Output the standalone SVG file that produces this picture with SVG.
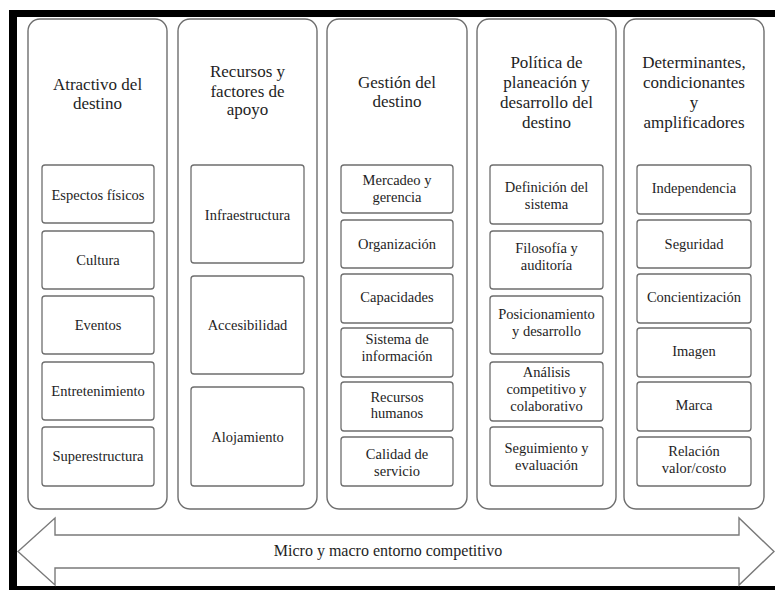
<svg xmlns="http://www.w3.org/2000/svg" width="775" height="590" viewBox="0 0 775 590" font-family="'Liberation Serif', 'Times New Roman', 'DejaVu Serif', serif">
<style>
.col{fill:#fff;stroke:#6e6e6e;stroke-width:1.4}
.box{fill:#fff;stroke:#6e6e6e;stroke-width:1.3}
text{font-family:'Liberation Serif','Times New Roman','DejaVu Serif',serif;fill:#1e1e1e;text-anchor:middle}
.h{font-size:17px}
.b{font-size:14.5px}
</style>
<rect x="0" y="0" width="775" height="590" fill="#fff"/>
<g id="frame" fill="#000">
<rect x="9" y="10" width="766" height="7"/>
<rect x="9" y="10" width="8" height="580"/>
<rect x="9" y="586" width="766" height="4"/>
</g>

<g id="col1">
<rect class="col" x="28" y="19" width="139" height="490" rx="12"/>
<text class="h"><tspan x="97.5" y="90">Atractivo del</tspan><tspan x="97.5" y="109">destino</tspan></text>
<g id="c1b1"><rect class="box" x="42" y="165" width="112" height="58" rx="3"/><text class="b" x="98" y="200">Espectos físicos</text></g>
<g id="c1b2"><rect class="box" x="42" y="231" width="112" height="58" rx="3"/><text class="b" x="98" y="265">Cultura</text></g>
<g id="c1b3"><rect class="box" x="42" y="296" width="112" height="58" rx="3"/><text class="b" x="98" y="330">Eventos</text></g>
<g id="c1b4"><rect class="box" x="42" y="362" width="112" height="58" rx="3"/><text class="b" x="98" y="396">Entretenimiento</text></g>
<g id="c1b5"><rect class="box" x="42" y="427" width="112" height="59" rx="3"/><text class="b" x="98" y="461">Superestructura</text></g>
</g>

<g id="col2">
<rect class="col" x="178" y="19" width="139" height="490" rx="12"/>
<text class="h"><tspan x="247.5" y="77">Recursos y</tspan><tspan x="247.5" y="96.5">factores de</tspan><tspan x="247.5" y="115">apoyo</tspan></text>
<g id="c2b1"><rect class="box" x="191" y="165" width="113" height="98" rx="3"/><text class="b" x="247.5" y="220">Infraestructura</text></g>
<g id="c2b2"><rect class="box" x="191" y="276" width="113" height="98" rx="3"/><text class="b" x="247.5" y="330">Accesibilidad</text></g>
<g id="c2b3"><rect class="box" x="191" y="387" width="113" height="99" rx="3"/><text class="b" x="247.5" y="442">Alojamiento</text></g>
</g>

<g id="col3">
<rect class="col" x="327" y="19" width="140" height="490" rx="12"/>
<text class="h"><tspan x="397" y="88">Gestión del</tspan><tspan x="397" y="107">destino</tspan></text>
<g id="c3b1"><rect class="box" x="341" y="165" width="112" height="48" rx="3"/><text class="b"><tspan x="397" y="185">Mercadeo y</tspan><tspan x="397" y="202">gerencia</tspan></text></g>
<g id="c3b2"><rect class="box" x="341" y="220" width="112" height="48" rx="3"/><text class="b" x="397" y="249">Organización</text></g>
<g id="c3b3"><rect class="box" x="341" y="274" width="112" height="49" rx="3"/><text class="b" x="397" y="302">Capacidades</text></g>
<g id="c3b4"><rect class="box" x="341" y="328" width="112" height="49" rx="3"/><text class="b"><tspan x="397" y="344">Sistema de</tspan><tspan x="397" y="361">información</tspan></text></g>
<g id="c3b5"><rect class="box" x="341" y="382" width="112" height="49" rx="3"/><text class="b"><tspan x="397" y="402">Recursos</tspan><tspan x="397" y="418">humanos</tspan></text></g>
<g id="c3b6"><rect class="box" x="341" y="437" width="112" height="49" rx="3"/><text class="b"><tspan x="397" y="459">Calidad de</tspan><tspan x="397" y="476">servicio</tspan></text></g>
</g>

<g id="col4">
<rect class="col" x="477" y="19" width="139" height="490" rx="12"/>
<text class="h"><tspan x="546.5" y="68">Política de</tspan><tspan x="546.5" y="88">planeación y</tspan><tspan x="546.5" y="108">desarrollo del</tspan><tspan x="546.5" y="128">destino</tspan></text>
<g id="c4b1"><rect class="box" x="490" y="165" width="113" height="59" rx="3"/><text class="b"><tspan x="546.5" y="192">Definición del</tspan><tspan x="546.5" y="209">sistema</tspan></text></g>
<g id="c4b2"><rect class="box" x="490" y="231" width="113" height="58" rx="3"/><text class="b"><tspan x="546.5" y="253">Filosofía y</tspan><tspan x="546.5" y="270">auditoría</tspan></text></g>
<g id="c4b3"><rect class="box" x="490" y="296" width="113" height="58" rx="3"/><text class="b"><tspan x="546.5" y="319">Posicionamiento</tspan><tspan x="546.5" y="336">y desarrollo</tspan></text></g>
<g id="c4b4"><rect class="box" x="490" y="362" width="113" height="59" rx="3"/><text class="b"><tspan x="546.5" y="377">Análisis</tspan><tspan x="546.5" y="394">competitivo y</tspan><tspan x="546.5" y="410.5">colaborativo</tspan></text></g>
<g id="c4b5"><rect class="box" x="490" y="427" width="113" height="59" rx="3"/><text class="b"><tspan x="546.5" y="453">Seguimiento y</tspan><tspan x="546.5" y="470">evaluación</tspan></text></g>
</g>

<g id="col5">
<rect class="col" x="624" y="19" width="140" height="490" rx="12"/>
<text class="h"><tspan x="694" y="68">Determinantes,</tspan><tspan x="694" y="88">condicionantes</tspan><tspan x="694" y="108">y</tspan><tspan x="694" y="128">amplificadores</tspan></text>
<g id="c5b1"><rect class="box" x="637" y="165" width="114" height="49" rx="3"/><text class="b" x="694" y="193">Independencia</text></g>
<g id="c5b2"><rect class="box" x="637" y="220" width="114" height="48" rx="3"/><text class="b" x="694" y="249">Seguridad</text></g>
<g id="c5b3"><rect class="box" x="637" y="274" width="114" height="49" rx="3"/><text class="b" x="694" y="302">Concientización</text></g>
<g id="c5b4"><rect class="box" x="637" y="328" width="114" height="49" rx="3"/><text class="b" x="694" y="356">Imagen</text></g>
<g id="c5b5"><rect class="box" x="637" y="382" width="114" height="49" rx="3"/><text class="b" x="694" y="410">Marca</text></g>
<g id="c5b6"><rect class="box" x="637" y="437" width="114" height="49" rx="3"/><text class="b"><tspan x="694" y="456">Relación</tspan><tspan x="694" y="473">valor/costo</tspan></text></g>
</g>

<g id="entorno">
<polygon points="18,551.5 55,518 55,535 739,535 739,518 774,551.5 739,585 739,568 55,568 55,585" fill="#fff" stroke="#7a7a7a" stroke-width="1.4" stroke-linejoin="miter"/>
<text font-size="16" x="388" y="556">Micro y macro entorno competitivo</text>
</g>
</svg>
